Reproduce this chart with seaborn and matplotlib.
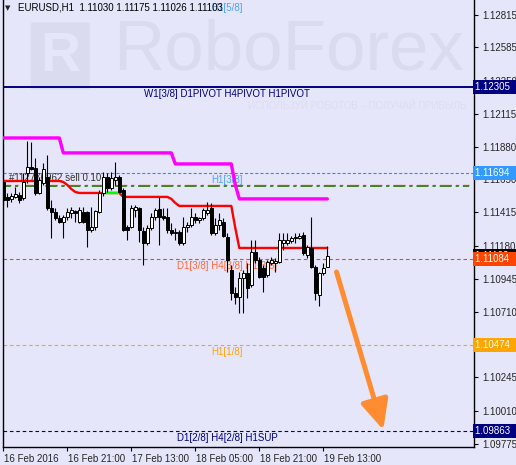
import numpy as np
import pandas as pd
import seaborn as sns
import matplotlib
matplotlib.use("Agg")
import matplotlib.pyplot as plt
import matplotlib.transforms as mtransforms
from matplotlib.patches import FancyBboxPatch

BG = "#e6e6fa"

# EURUSD H1 candles, 16 Feb 05:00 .. 19 Feb 14:00
opens = [1.11631, 1.11525, 1.11511, 1.11525, 1.11539, 1.11518, 1.11695, 1.11737, 1.11730, 1.11553,
         1.11624, 1.11667, 1.11447, 1.11418, 1.11376, 1.11347, 1.11383, 1.11411, 1.11425, 1.11347,
         1.11418, 1.11418, 1.11290, 1.11312, 1.11418, 1.11553, 1.11667, 1.11589, 1.11645, 1.11667,
         1.11574, 1.11312, 1.11312, 1.11432, 1.11447, 1.11283, 1.11198, 1.11305, 1.11383, 1.11440,
         1.11390, 1.11383, 1.11290, 1.11269, 1.11276, 1.11198, 1.11312, 1.11326, 1.11383, 1.11361,
         1.11376, 1.11411, 1.11447, 1.11269, 1.11326, 1.11347, 1.11241, 1.11007, 1.10844, 1.10815,
         1.10950, 1.10986, 1.10901, 1.11135, 1.11078, 1.11021, 1.10971, 1.11057, 1.11057, 1.11064,
         1.11198, 1.11198, 1.11213, 1.11234, 1.11234, 1.11255, 1.11113, 1.11163, 1.11028, 1.10830,
         1.10986, 1.11030]
highs = [1.11660, 1.11553, 1.11553, 1.11596, 1.11560, 1.11695, 1.11922, 1.11915, 1.11801, 1.11667,
         1.11766, 1.11823, 1.11503, 1.11447, 1.11397, 1.11397, 1.11447, 1.11454, 1.11432, 1.11454,
         1.11454, 1.11425, 1.11454, 1.11432, 1.11574, 1.11702, 1.11695, 1.11702, 1.11773, 1.11681,
         1.11589, 1.11326, 1.11468, 1.11468, 1.11454, 1.11312, 1.11326, 1.11411, 1.11447, 1.11525,
         1.11447, 1.11447, 1.11340, 1.11305, 1.11290, 1.11383, 1.11347, 1.11447, 1.11411, 1.11383,
         1.11447, 1.11489, 1.11482, 1.11376, 1.11411, 1.11376, 1.11269, 1.11042, 1.10887, 1.10993,
         1.11007, 1.11057, 1.11220, 1.11220, 1.11099, 1.11042, 1.11078, 1.11099, 1.11092, 1.11269,
         1.11269, 1.11269, 1.11248, 1.11269, 1.11269, 1.11276, 1.11184, 1.11383, 1.11042, 1.10993,
         1.11057, 1.11175]
lows = [1.11468, 1.11454, 1.11489, 1.11518, 1.11482, 1.11503, 1.11624, 1.11716, 1.11539, 1.11546,
        1.11610, 1.11432, 1.11234, 1.11361, 1.11340, 1.11234, 1.11361, 1.11376, 1.11347, 1.11340,
        1.11340, 1.11170, 1.11276, 1.11290, 1.11411, 1.11532, 1.11560, 1.11574, 1.11610, 1.11553,
        1.11283, 1.11220, 1.11305, 1.11383, 1.11206, 1.11042, 1.11184, 1.11290, 1.11361, 1.11184,
        1.11361, 1.11269, 1.11255, 1.11220, 1.11184, 1.11184, 1.11276, 1.11312, 1.11340, 1.11340,
        1.11361, 1.11397, 1.11255, 1.11255, 1.11290, 1.11241, 1.10993, 1.10794, 1.10766, 1.10702,
        1.10702, 1.10808, 1.10887, 1.11057, 1.10950, 1.10851, 1.10957, 1.11042, 1.10993, 1.11057,
        1.11149, 1.11184, 1.11198, 1.11198, 1.11227, 1.11113, 1.11092, 1.11021, 1.10794, 1.10752,
        1.10971, 1.11026]
closes = [1.11503, 1.11503, 1.11532, 1.11546, 1.11503, 1.11631, 1.11737, 1.11723, 1.11553, 1.11645,
          1.11723, 1.11447, 1.11418, 1.11376, 1.11347, 1.11383, 1.11418, 1.11432, 1.11411, 1.11432,
          1.11347, 1.11290, 1.11312, 1.11425, 1.11553, 1.11667, 1.11589, 1.11660, 1.11667, 1.11560,
          1.11290, 1.11290, 1.11447, 1.11454, 1.11290, 1.11198, 1.11305, 1.11383, 1.11432, 1.11383,
          1.11376, 1.11290, 1.11269, 1.11276, 1.11198, 1.11312, 1.11326, 1.11383, 1.11361, 1.11376,
          1.11432, 1.11432, 1.11269, 1.11326, 1.11361, 1.11248, 1.11078, 1.10844, 1.10815, 1.10950,
          1.10986, 1.10879, 1.11135, 1.11078, 1.10957, 1.10957, 1.11064, 1.11078, 1.11071, 1.11220,
          1.11220, 1.11220, 1.11234, 1.11241, 1.11248, 1.11128, 1.11170, 1.11028, 1.10844, 1.10986,
          1.11021, 1.11103]

# indicator step lines, one value per bar
magenta_line = ([1.11943] * 15 + [1.11837] * 28 + [1.11759] * 15 + [1.11610] + [1.11511] * 23)
red_line = ([1.11638] * 15 + [1.11631, 1.11610, 1.11581, 1.11560] + [1.11553] * 11
            + [1.11525] * 12 + [1.11511, 1.11482] + [1.11461] * 14 + [1.11305] + [1.11163] * 23)
green_bars = [25, 26, 27, 28, 29]

time_ticks = [0, 16, 32, 48, 64, 80]
time_labels = ["16 Feb 2016", "16 Feb 21:00", "17 Feb 13:00", "18 Feb 05:00",
               "18 Feb 21:00", "19 Feb 13:00"]
price_ticks = [1.12815, 1.12585, 1.12350, 1.12115, 1.11880, 1.11650, 1.11415, 1.11180,
               1.10945, 1.10710, 1.10475, 1.10245, 1.10010, 1.09775]

# murrey / pivot levels: price, colour, label
lvl_prices = [1.12914, 1.12305, 1.11694, 1.11084, 1.10474, 1.09863]
lvl_colors = ["#1e90ff", "#000080", "#1e90ff", "#ff4500", "#ffa500", "#000080"]
lvl_labels = ["H1[5/8]", "W1[3/8] D1PIVOT H4PIVOT H1PIVOT", "H1[3/8]",
              "D1[3/8] H4[3/8] H1[3/8]", "H1[1/8]", "D1[2/8] H4[2/8] H1SUP"]
lvl_text_colors = ["#4da3ff", "#000080", "#4da3ff", "#ff6a3d", "#ffa500", "#000080"]
order_price = 1.11603
bid_price = 1.11103
arrow_from = (83.3, 1.10993)
arrow_to = (95.0, 1.09873)

sns.set_style("white", {"axes.facecolor": BG, "figure.facecolor": BG})
plt.rcParams["font.family"] = ["Liberation Sans", "DejaVu Sans"]
plt.rcParams["lines.scale_dashes"] = False

fig = plt.figure(figsize=(5.16, 4.65), dpi=100)
ax = fig.add_axes([2.5 / 516, 18 / 465, 471 / 516, 447 / 465])
ax.set_facecolor(BG)

# watermark
WM = "#dadbef"
ax.text(0.235, 0.885, "RoboForex", transform=ax.transAxes, fontsize=51, color=WM,
        ha="left", va="center", zorder=0)
ax.add_patch(FancyBboxPatch((0.065, 0.805), 0.115, 0.14, boxstyle="round,pad=0.005",
                            transform=ax.transAxes, fc=WM, ec="none", zorder=0))
ax.text(0.122, 0.873, "R", transform=ax.transAxes, fontsize=40, color=BG,
        ha="center", va="center", fontweight="bold", zorder=0)
ax.text(0.985, 0.762, "ИСПОЛЬЗУЙ РОБОТОВ – ПОЛУЧАЙ ПРИБЫЛЬ", transform=ax.transAxes,
        fontsize=7, color="#dcddf0", ha="right", va="center", zorder=0)

# horizontal levels (the 5/8 line itself sits above the visible range, only its label shows)
for p, c in zip(lvl_prices[1:], lvl_colors[1:]):
    if p == 1.12305:
        ax.axhline(p, color=c, lw=1.4, zorder=2)
    elif c == "#1e90ff":
        ax.axhline(p, color=c, lw=0.8, ls=(0, (2.2, 1.5)), zorder=2)
    else:
        ax.axhline(p, color=c, lw=0.8, ls=(0, (2.6, 2.0)), zorder=2)
for p, t, c in zip(lvl_prices, lvl_labels, lvl_text_colors):
    ax.annotate(t, (56, p), xytext=(0, -1.5), textcoords="offset points",
                ha="center", va="top", fontsize=7, color=c, zorder=3)

# order line (dash-dot, red over green)
dd = (0, (8.5, 3.0, 2.2, 3.0))
ax.plot([-1, 116.5], [order_price - 0.00004] * 2, color="#008000", lw=1.2, ls=dd, zorder=2)
ax.plot([-1, 116.5], [order_price + 0.00004] * 2, color="#ff3010", lw=0.9, ls=dd, zorder=2)
ax.annotate("#112776962 sell 0.10", (1.5, order_price), xytext=(0, 2), textcoords="offset points",
            ha="left", va="bottom", fontsize=7, color="#333333", zorder=3)

# indicator lines
lines = pd.DataFrame({"bar": np.arange(len(magenta_line)), "magenta": magenta_line, "red": red_line})
sns.lineplot(data=lines, x="bar", y="magenta", color="#ff00ff", lw=2.4, ax=ax, zorder=4)
sns.lineplot(data=lines, x="bar", y="red", color="#ff0000", lw=1.7, ax=ax, zorder=4)
g = lines[lines["bar"].isin(green_bars)]
sns.lineplot(data=g, x="bar", y="red", color="#00ff00", lw=1.7, ax=ax, zorder=4)

# candles
df = pd.DataFrame({"o": opens, "h": highs, "l": lows, "c": closes})
df["bar"] = np.arange(len(df))
up = df["c"] >= df["o"]
lo = df[["o", "c"]].min(axis=1)
hgt = (df["c"] - df["o"]).abs().clip(lower=0.000025)
ax.vlines(df["bar"], df["l"], df["h"], color="black", lw=0.8, zorder=6)
ax.bar(df["bar"][up], hgt[up], bottom=lo[up], width=0.62, color="white",
       edgecolor="black", lw=0.7, zorder=7)
ax.bar(df["bar"][~up], hgt[~up], bottom=lo[~up], width=0.62, color="black",
       edgecolor="black", lw=0.7, zorder=7)

# forecast arrow
ax.annotate("", xy=arrow_to, xytext=arrow_from,
            arrowprops=dict(arrowstyle="-|>,head_length=0.9,head_width=0.42", lw=3.6,
                            color="#ff8c30", mutation_scale=20, shrinkA=0, shrinkB=0),
            zorder=8)

ax.set_xlim(-0.2, 117.55)
ax.set_ylim(1.09752, 1.12921)
ax.set_xlabel("")
ax.set_ylabel("")

ax.set_xticks(time_ticks)
ax.set_xticklabels(time_labels, ha="left")
ax.tick_params(axis="x", direction="out", length=3, width=0.8, color="black",
               labelsize=7, pad=2, bottom=True)
off = mtransforms.ScaledTranslation(1 / 100, 0, fig.dpi_scale_trans)
for lab in ax.get_xticklabels():
    lab.set_transform(lab.get_transform() + off)

ax.yaxis.tick_right()
ax.set_yticks(price_ticks)
ax.set_yticklabels([f"{v:.5f}" for v in price_ticks])
ax.tick_params(axis="y", direction="out", length=3, width=0.8, color="black",
               labelsize=7, pad=3, right=True, left=False)

for s in ["left", "right", "bottom"]:
    ax.spines[s].set_visible(True)
    ax.spines[s].set_color("black")
    ax.spines[s].set_linewidth(1.0)
ax.spines["top"].set_visible(False)

# price boxes on the right scale
tr = mtransforms.blended_transform_factory(ax.transAxes, ax.transData)
boxes = [(bid_price, "#000000"), (1.12305, "#000080"), (1.11694, "#3399ff"),
         (1.11084, "#ff4500"), (1.10474, "#ffa500"), (1.09863, "#000080")]
for p, c in boxes:
    ax.text(1.004, p, f"{p:.5f}  ", transform=tr, ha="left", va="center", fontsize=7,
            color="white", zorder=10, clip_on=False,
            bbox=dict(boxstyle="square,pad=0.2", fc=c, ec="none"))

# header
fig.text(5 / 516, 1 - 8 / 465, "▼", fontsize=5, color="#222222", va="center", ha="left",
         family=["DejaVu Sans"])
fig.text(18 / 516, 1 - 8 / 465, "EURUSD,H1  1.11030 1.11175 1.11026 1.11103", fontsize=7,
         color="black", va="center", ha="left")

fig.savefig("out.png", dpi=100, facecolor=BG)
